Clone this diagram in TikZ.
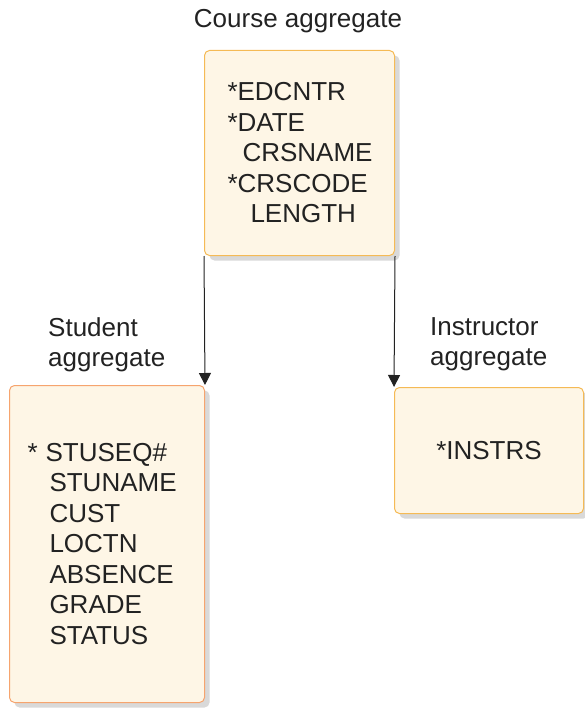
\documentclass[tikz,border=0pt]{standalone}
\usepackage{fontspec}
\setmainfont{Liberation Sans}
\usepackage{tikz}
\usetikzlibrary{arrows.meta}
\usetikzlibrary{shadows}
\definecolor{boxfill}{HTML}{FEF6E6}
\definecolor{boxline}{HTML}{F5BA55}
\definecolor{stuline}{HTML}{F6A46E}
\definecolor{inkgrey}{HTML}{222222}

\tikzset{
	aggbox/.style={draw=boxline, fill=boxfill, rounded corners=5pt, line width=1pt,
		drop shadow={shadow xshift=5pt, shadow yshift=-5pt, fill=black!15, opacity=1},
		align=left, inner ysep=0pt, text=inkgrey,
		font=\fontsize{26}{30.5}\selectfont},
	aggname/.style={align=left, inner sep=0pt, text=inkgrey,
		font=\fontsize{26}{30.5}\selectfont},
	link/.style={draw=inkgrey, line width=1pt, -{Triangle[length=12pt,width=12pt]}}
}

\begin{document}
\begin{tikzpicture}[x=1pt, y=-1pt]
		\useasboundingbox (0,0) rectangle (584,709);

		\node(course)	[aggbox, anchor=north west, minimum width=190pt, minimum height=205pt,
			inner xsep=23pt, text width=144pt] at (204,50)
			{*EDCNTR\\{}*DATE\\\hspace*{15pt}CRSNAME\\{}*CRSCODE\\\hspace*{23pt}LENGTH};
		\node(student)	[aggbox, draw=stuline, anchor=north west, minimum width=195pt, minimum height=317pt,
			inner xsep=18pt, text width=159pt] at (9,385)
			{*\hspace*{8pt}STUSEQ\#\\\hspace*{22pt}STUNAME\\\hspace*{22pt}CUST\\\hspace*{22pt}LOCTN\\\hspace*{22pt}ABSENCE\\\hspace*{22pt}GRADE\\\hspace*{22pt}STATUS};
		\node(instr)	[aggbox, anchor=north west, minimum width=189pt, minimum height=126pt,
			align=center] at (394,387) {*INSTRS};

		\node(coursename)	[aggname, anchor=base] at (298,28) {Course aggregate};
		\node(studentname)	[aggname, anchor=north west] at (48,317) {Student\\aggregate};
		\node(instrname)	[aggname, anchor=north west] at (430,317) {Instructor\\aggregate};

		\draw[link] (course.south west) -- (student.north east);
		\draw[link] (course.south east) -- (instr.north west);
	\end{tikzpicture}
\end{document}
